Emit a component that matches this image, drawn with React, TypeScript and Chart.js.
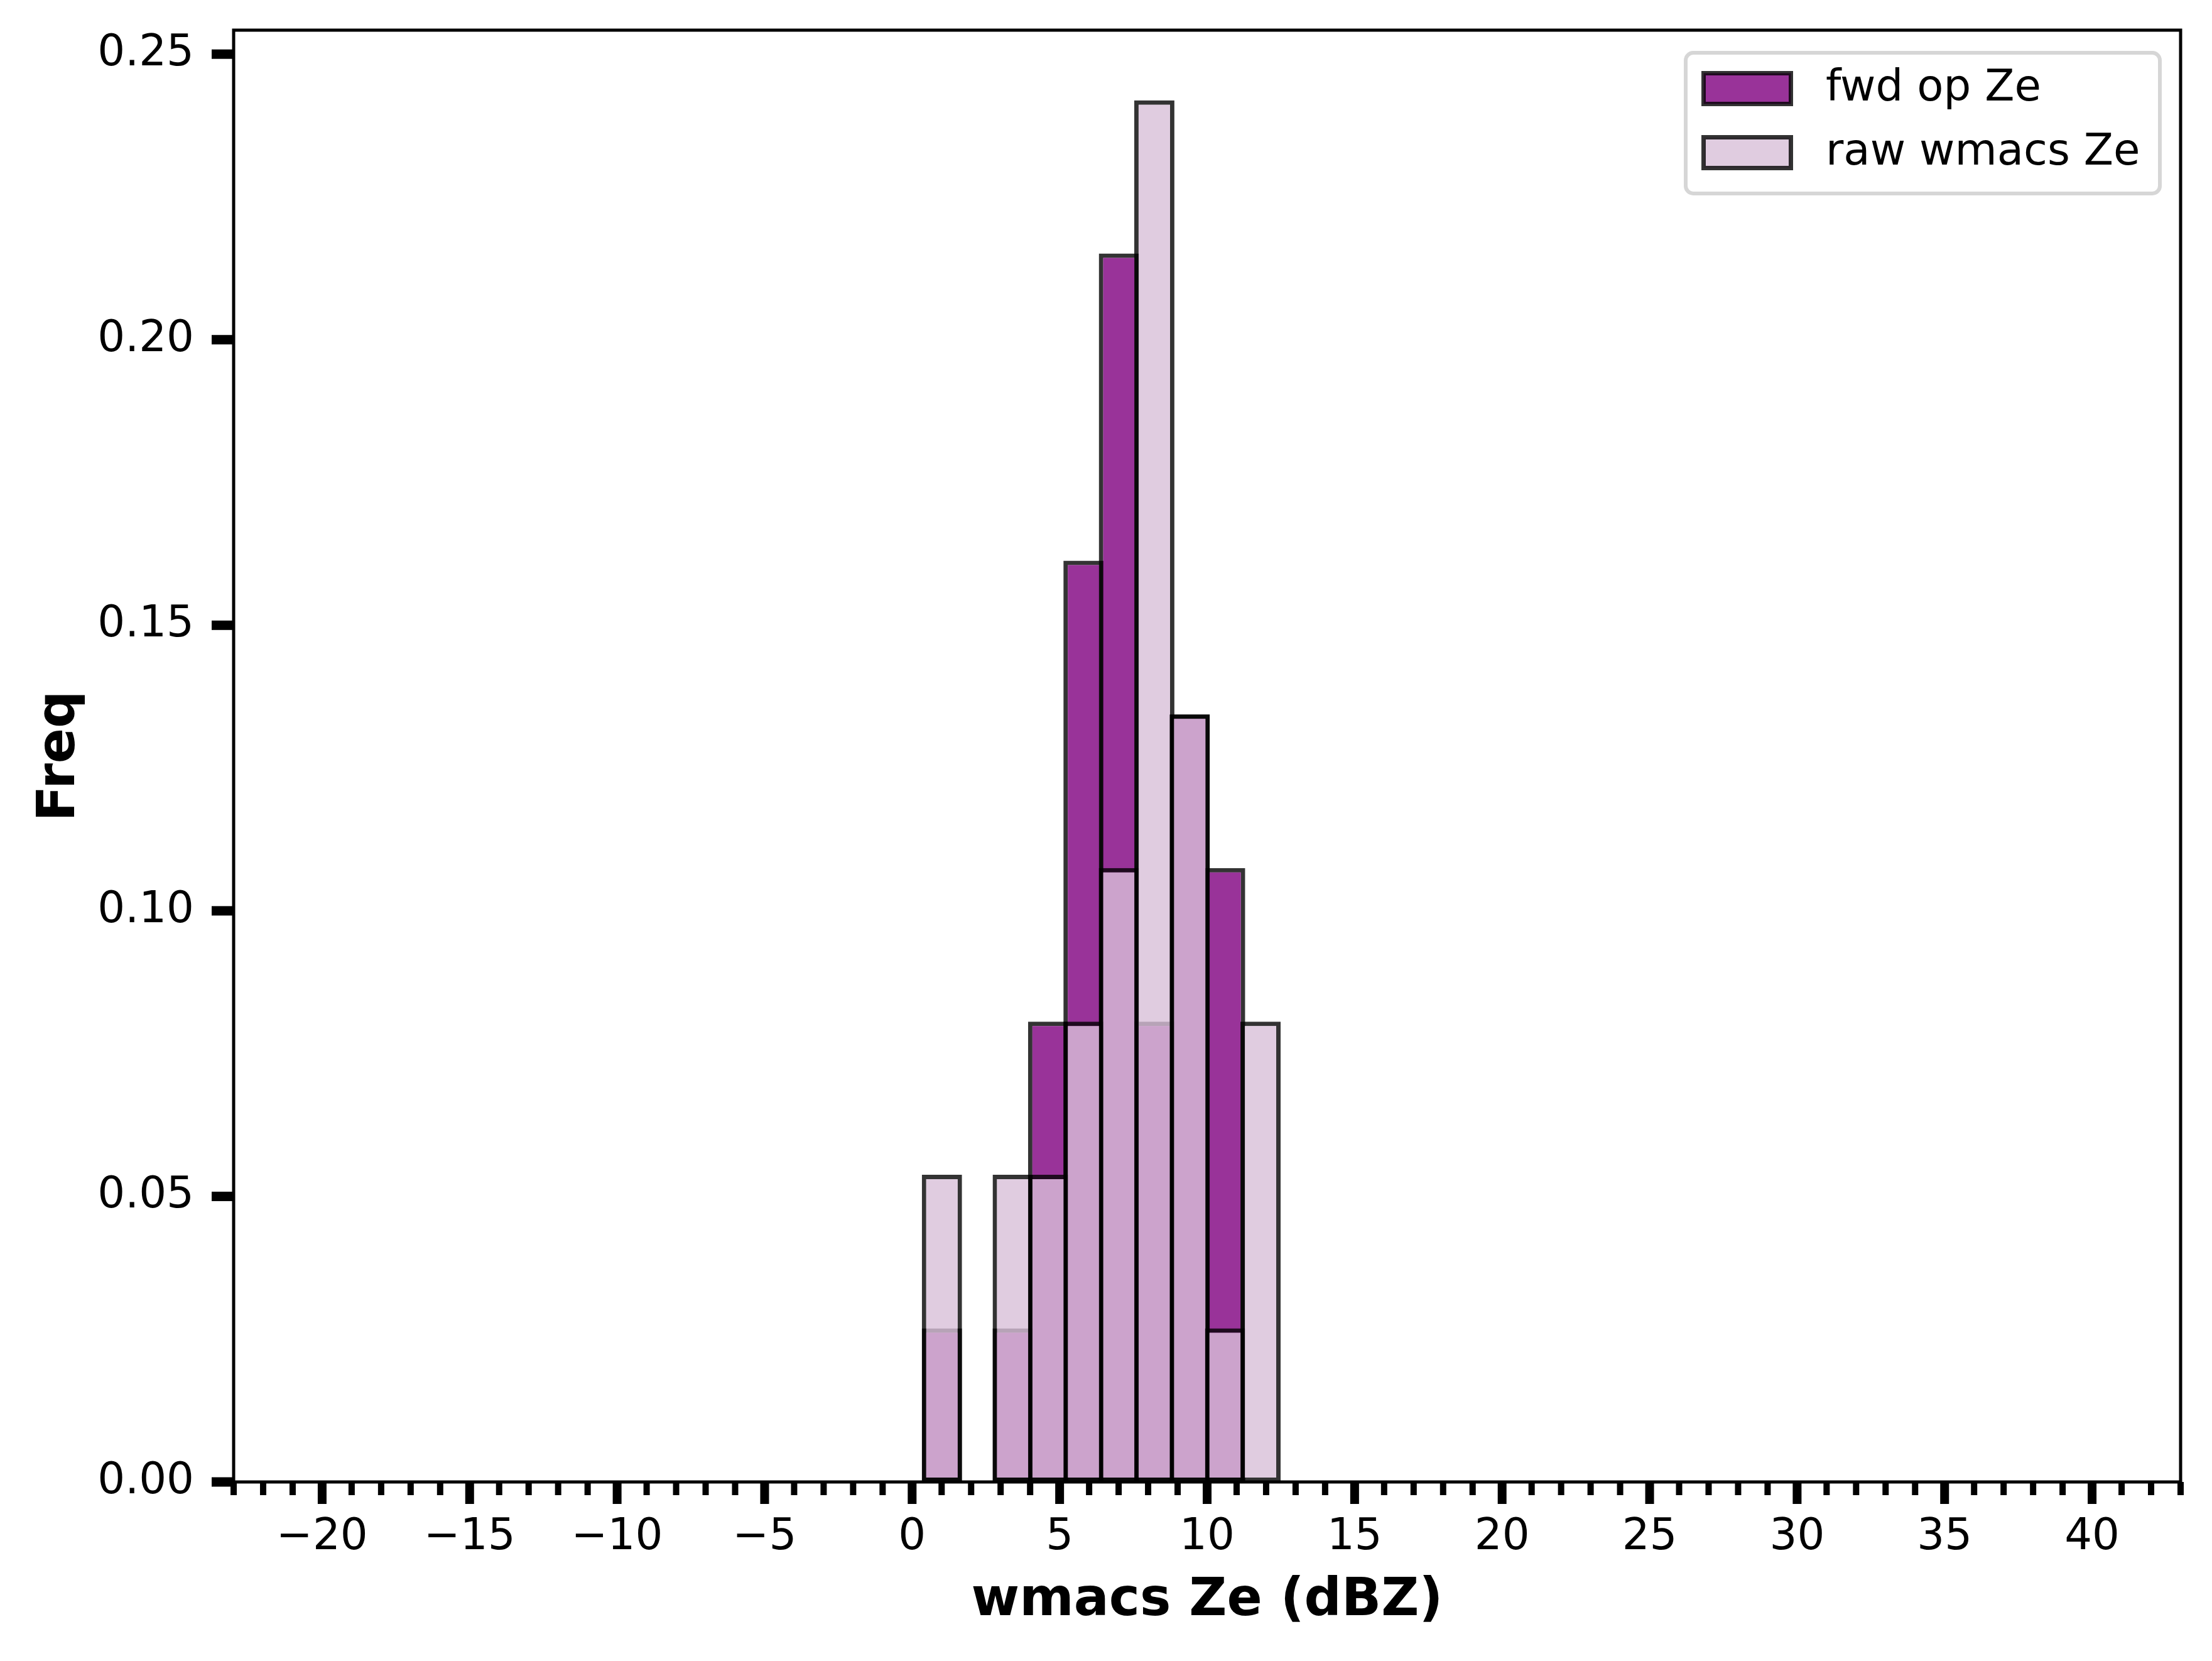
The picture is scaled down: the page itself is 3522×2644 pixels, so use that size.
import { useEffect, useRef } from "react";
import { Chart, registerables } from "chart.js";
import type { Plugin } from "chart.js";

Chart.register(...registerables);

// histogram bins (bin centre, dBZ) and normalised frequencies
const binCenters = [1.01, 2.21, 3.41, 4.61, 5.81, 7.01, 8.21, 9.41, 10.61, 11.81];
const fwdFreq = [0.0269, null, 0.0269, 0.0806, 0.1613, 0.2151, 0.0806, 0.1344, 0.1075, null];
const rawFreq = [0.0538, null, 0.0538, 0.0538, 0.0806, 0.1075, 0.2419, 0.1344, 0.0269, 0.0806];

const xTickValues = [-20, -15, -10, -5, 0, 5, 10, 15, 20, 25, 30, 35, 40];
const yTickValues = [0, 0.05, 0.1, 0.15, 0.2, 0.25];

const FONT = "'DejaVu Sans', sans-serif";

const fmtX = (v: number | string) => {
  const n = Number(v);
  return n < 0 ? "\u2212" + Math.abs(n) : String(n);
};

// spines, major/minor ticks and the matplotlib-style legend box
const decorations: Plugin<"bar"> = {
  id: "decorations",
  beforeDraw(chart) {
    const { ctx, width, height } = chart;
    ctx.save();
    ctx.fillStyle = "#ffffff";
    ctx.fillRect(0, 0, width, height);
    ctx.restore();
  },
  afterDatasetsDraw(chart) {
    const { ctx, chartArea: a } = chart;
    const xs = chart.scales.x;
    const ys = chart.scales.y;
    ctx.save();

    ctx.fillStyle = "#000";
    for (const t of ys.ticks) {
      const py = ys.getPixelForValue(t.value);
      ctx.fillRect(a.left - 35, py - 7.5, 35, 15);
    }
    for (let v = Math.ceil(xs.min); v <= Math.floor(xs.max); v++) {
      const px = xs.getPixelForValue(v);
      if (v % 5 === 0) ctx.fillRect(px - 7, a.bottom, 14, 35);
      else ctx.fillRect(px - 5, a.bottom, 10, 21);
    }

    ctx.strokeStyle = "#000";
    ctx.lineWidth = 5;
    ctx.strokeRect(a.left, a.top, a.right - a.left, a.bottom - a.top);

    // legend
    const bw = 755;
    const bh = 224;
    const bx = a.right - 33 - bw;
    const by = a.top + 36;
    const r = 12;
    ctx.beginPath();
    ctx.moveTo(bx + r, by);
    ctx.arcTo(bx + bw, by, bx + bw, by + bh, r);
    ctx.arcTo(bx + bw, by + bh, bx, by + bh, r);
    ctx.arcTo(bx, by + bh, bx, by, r);
    ctx.arcTo(bx, by, bx + bw, by, r);
    ctx.closePath();
    ctx.fillStyle = "rgba(255,255,255,0.8)";
    ctx.fill();
    ctx.lineWidth = 6;
    ctx.strokeStyle = "#d6d6d6";
    ctx.stroke();

    ctx.font = `69px ${FONT}`;
    ctx.textBaseline = "middle";
    ctx.textAlign = "left";
    chart.data.datasets.forEach((ds, i) => {
      const top = by + 32.5 + i * 102;
      ctx.fillStyle = ds.backgroundColor as string;
      ctx.fillRect(bx + 28.5, top, 139, 49);
      ctx.lineWidth = 7;
      ctx.strokeStyle = ds.borderColor as string;
      ctx.strokeRect(bx + 28.5, top, 139, 49);
      ctx.fillStyle = "#000";
      ctx.fillText(ds.label ?? "", bx + 223, top + 26);
    });

    ctx.restore();
  },
};

export default function App() {
  const canvasRef = useRef<HTMLCanvasElement>(null);
  const chartRef = useRef<Chart<"bar"> | null>(null);

  useEffect(() => {
    if (!canvasRef.current) return;
    chartRef.current?.destroy();

    const barStyle = {
      borderColor: "rgba(0,0,0,0.8)",
      borderWidth: 7,
      borderSkipped: false as const,
      grouped: false,
      categoryPercentage: 1,
      barPercentage: 1.1356,
      inflateAmount: 0,
    };

    chartRef.current = new Chart(canvasRef.current, {
      type: "bar",
      data: {
        datasets: [
          {
            label: "fwd op Ze",
            data: binCenters.map((x, i) => ({ x, y: fwdFreq[i] })) as any,
            backgroundColor: "rgba(128,0,128,0.8)",
            order: 2,
            ...barStyle,
          },
          {
            label: "raw wmacs Ze",
            data: binCenters.map((x, i) => ({ x, y: rawFreq[i] })) as any,
            backgroundColor: "rgba(216,191,216,0.8)",
            order: 1,
            ...barStyle,
          },
        ],
      },
      options: {
        animation: false,
        responsive: false,
        devicePixelRatio: 1,
        events: [],
        layout: { padding: { left: 0, top: 48, right: 50, bottom: 0 } },
        plugins: { legend: { display: false }, tooltip: { enabled: false } },
        scales: {
          x: {
            type: "linear",
            offset: false,
            min: -23,
            max: 43,
            afterBuildTicks: (s) => {
              s.ticks = xTickValues.map((value) => ({ value }));
            },
            afterFit: (s) => {
              s.height = 285;
              s.paddingLeft = 0;
              s.paddingRight = 0;
            },
            grid: { display: false, drawTicks: false, offset: false },
            border: { display: false },
            ticks: {
              padding: 48,
              color: "#000",
              autoSkip: false,
              maxRotation: 0,
              font: { family: FONT, size: 69 },
              callback: fmtX,
            },
            title: {
              display: true,
              text: "wmacs Ze (dBZ)",
              color: "#000",
              font: { family: FONT, size: 83, weight: "bold" },
              padding: { top: 0, bottom: 45 },
            },
          },
          y: {
            type: "linear",
            min: 0,
            max: 0.2542,
            afterBuildTicks: (s) => {
              s.ticks = yTickValues.map((value) => ({ value }));
            },
            afterFit: (s) => {
              s.width = 372;
              s.paddingTop = 0;
              s.paddingBottom = 0;
            },
            grid: { display: false, drawTicks: false },
            border: { display: false },
            ticks: {
              padding: 63,
              color: "#000",
              autoSkip: false,
              font: { family: FONT, size: 69 },
              callback: (v) => Number(v).toFixed(2),
            },
            title: {
              display: true,
              text: "Freq",
              color: "#000",
              font: { family: FONT, size: 83, weight: "bold" },
              padding: { top: 47, bottom: 0 },
            },
          },
        },
      },
      plugins: [decorations],
    });

    return () => {
      chartRef.current?.destroy();
      chartRef.current = null;
    };
  }, []);

  return (
    <div
      style={{
        position: "absolute",
        left: 0,
        top: 0,
        width: 3522,
        height: 2644,
        background: "#fff",
      }}
    >
      <canvas ref={canvasRef} width={3522} height={2644} style={{ display: "block" }} />
    </div>
  );
}
